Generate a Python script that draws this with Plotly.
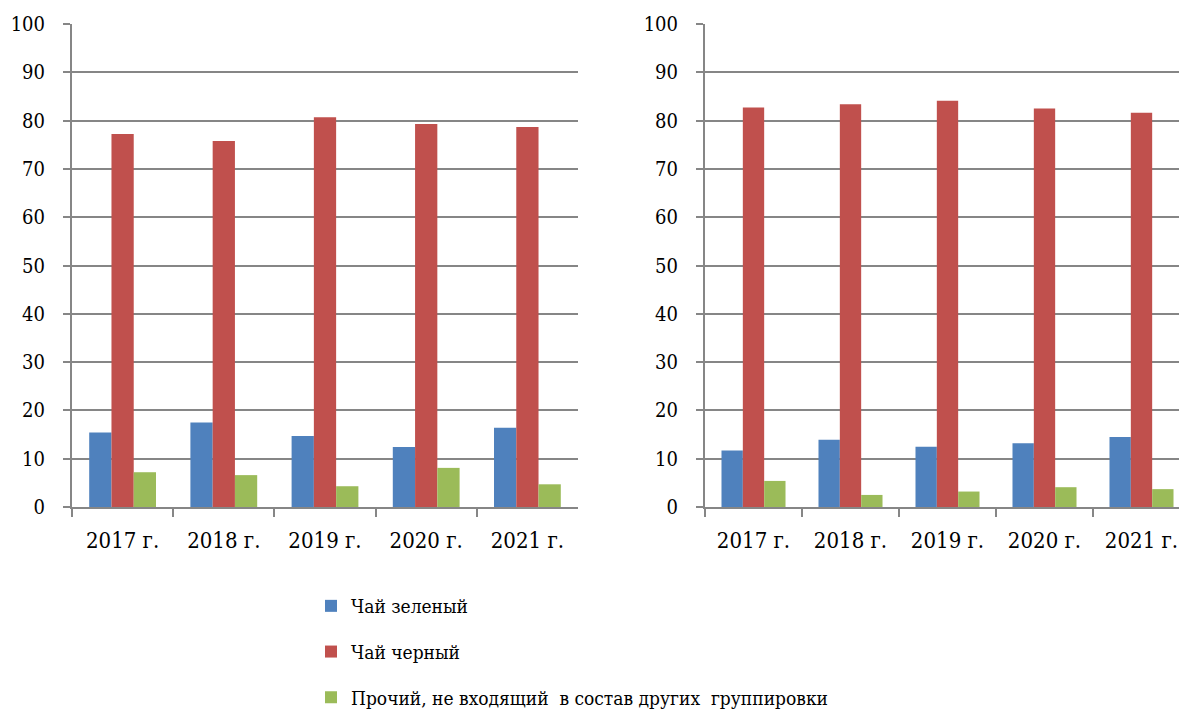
import plotly.graph_objects as go
from plotly.subplots import make_subplots

years = ["2017 г.", "2018 г.", "2019 г.", "2020 г.", "2021 г."]

# left chart
green_tea_l = [15.4, 17.5, 14.7, 12.4, 16.4]
black_tea_l = [77.2, 75.8, 80.7, 79.3, 78.7]
other_l = [7.2, 6.6, 4.3, 8.1, 4.7]

# right chart
green_tea_r = [11.7, 13.9, 12.5, 13.2, 14.5]
black_tea_r = [82.7, 83.4, 84.1, 82.5, 81.6]
other_r = [5.4, 2.5, 3.2, 4.1, 3.7]

names = ["Чай зеленый", "Чай черный", "Прочий, не входящий  в состав других  группировки"]
colors = ["#4F81BD", "#C0504D", "#9BBB59"]

fig = make_subplots(rows=1, cols=2)

left = [green_tea_l, black_tea_l, other_l]
right = [green_tea_r, black_tea_r, other_r]
for i in range(3):
    fig.add_trace(go.Bar(x=years, y=left[i], name=names[i], marker_color=colors[i],
                         marker_line_width=0, legendgroup=str(i), showlegend=True), row=1, col=1)
    fig.add_trace(go.Bar(x=years, y=right[i], name=names[i], marker_color=colors[i],
                         marker_line_width=0, legendgroup=str(i), showlegend=False), row=1, col=2)

# the page has an 8px body margin, so screen positions are shifted by 8px
W, H = 1187, 713
off = 8
grid = "#868686"
cond = "DejaVu Serif Condensed, DejaVu Serif"
ydom = [(H - (507 - off)) / H, (H - (24 - off)) / H]
fig.update_layout(
    width=W, height=H,
    margin=dict(l=0, r=0, t=0, b=0, autoexpand=False),
    paper_bgcolor="white", plot_bgcolor="white",
    barmode="group", bargap=0.34, bargroupgap=0,
    font=dict(family=cond, color="black"),
    legend=dict(x=(311 - off) / W, y=(H - (587 - off)) / H, xanchor="left", yanchor="top",
                font=dict(size=19, family=cond),
                tracegroupgap=18, itemwidth=30),
)
fig.update_xaxes(showline=True, linecolor=grid, linewidth=2, ticks="outside", tickson="boundaries",
                 ticklen=8, tickcolor=grid, tickwidth=2, tickfont=dict(size=22, family=cond),
                 ticklabelstandoff=13, showgrid=False, automargin=False)
fig.update_yaxes(range=[0, 100], dtick=10, showline=True, linecolor=grid, linewidth=2,
                 showgrid=True, gridcolor=grid, gridwidth=2, ticks="outside", ticklen=7,
                 tickcolor=grid, tickwidth=2, tickfont=dict(size=20, family=cond),
                 ticklabelstandoff=14, zeroline=False, domain=ydom, automargin=False)
fig.update_xaxes(domain=[(72 - off) / W, (578 - off) / W], row=1, col=1)
fig.update_xaxes(domain=[(705 - off) / W, (1190 - off) / W], row=1, col=2)

fig.write_html("out.html")
